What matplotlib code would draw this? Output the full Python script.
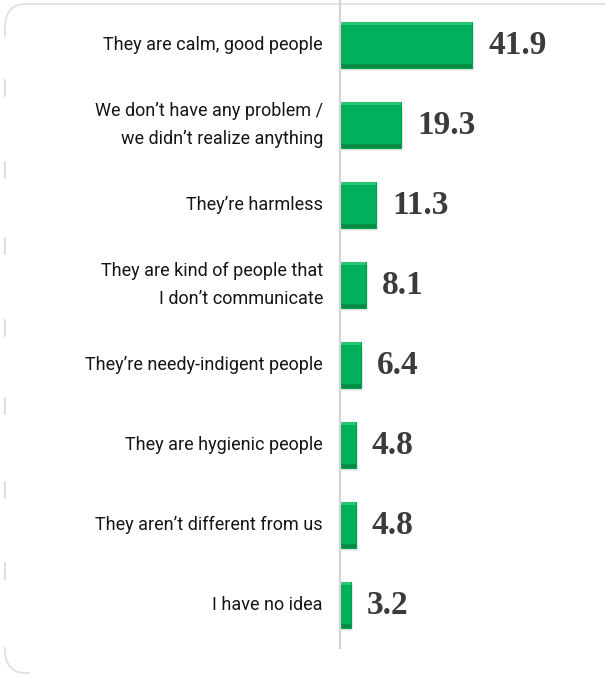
import matplotlib.pyplot as plt
from matplotlib.patches import FancyBboxPatch
from matplotlib.lines import Line2D

# survey answers, percent of respondents
answers = [
    "They are calm, good people",
    "We don’t have any problem /\nwe didn’t realize anything",
    "They’re harmless",
    "They are kind of people that\nI don’t communicate",
    "They’re needy-indigent people",
    "They are hygienic people",
    "They aren’t different from us",
    "I have no idea",
]
percents = [41.9, 19.3, 11.3, 8.1, 6.4, 4.8, 4.8, 3.2]

W, H = 605, 677
fig = plt.figure(figsize=(W / 100, H / 100), dpi=100)
fig.patch.set_facecolor("white")

# axes starts where the bars start, rows are 80 px apart
ax = fig.add_axes([341 / W, 1 - 645 / H, 264 / W, 640 / H])
ax.set_xlim(0, 264 / 3.13)
ax.set_ylim(len(answers) - 0.5, -0.5)
ax.axis("off")

pos = list(range(len(answers)))
bar_h = 0.575

# soft drop shadow, main bar, then a darker lower rim and lighter upper rim
ax.barh([p + 0.04 for p in pos], [v + 0.6 for v in percents], height=bar_h,
        color="#000000", alpha=0.08, zorder=1)
ax.barh(pos, percents, height=bar_h, color="#00b05a", edgecolor="#00a050",
        linewidth=0.8, zorder=2)
ax.barh([p + bar_h / 2 - 0.025 for p in pos], percents, height=0.05,
        color="#008c44", linewidth=0, zorder=3)
ax.barh([p - bar_h / 2 + 0.02 for p in pos], percents, height=0.04,
        color="#2cc477", linewidth=0, zorder=3)

for p, v, name in zip(pos, percents, answers):
    ax.annotate(f"{v}", xy=(v, p), xytext=(11.5, 0), textcoords="offset points",
                ha="left", va="center", fontsize=24, fontweight="bold",
                family="Liberation Serif", color="#3b3b3b")
    ax.annotate(name, xy=(0, p), xytext=(-13, 0), textcoords="offset points",
                ha="right", va="center", fontsize=13, family="Roboto",
                color="#151515", linespacing=1.75, annotation_clip=False)

# value axis line
fig.add_artist(Line2D([340 / W, 340 / W], [1, 1 - 648 / H],
                      color="#d4d4d4", linewidth=1.6))

# rounded panel outline on the left
panel = FancyBboxPatch((5 / W, 4 / H), 700 / W, 669 / H,
                       boxstyle="round,pad=0,rounding_size=0.035",
                       transform=fig.transFigure, facecolor="none",
                       edgecolor="#e0e0e0", linewidth=1.3, zorder=0)
fig.add_artist(panel)
# the left edge only shows as short dashes between the rows,
# and the bottom edge stops right after the corner
fig.add_artist(plt.Rectangle((2 / W, 30 / H), 6 / W, 610 / H,
                             transform=fig.transFigure, facecolor="white",
                             edgecolor="none", zorder=0.5))
fig.add_artist(plt.Rectangle((30 / W, 0), 580 / W, 8 / H,
                             transform=fig.transFigure, facecolor="white",
                             edgecolor="none", zorder=0.5))
for y0 in [80, 162, 238, 320, 398, 482, 563]:
    fig.add_artist(Line2D([5 / W, 5 / W], [1 - y0 / H, 1 - (y0 + 16) / H],
                          color="#dcdcdc", linewidth=1.3))

fig.savefig("out.png", dpi=100, facecolor="white")
